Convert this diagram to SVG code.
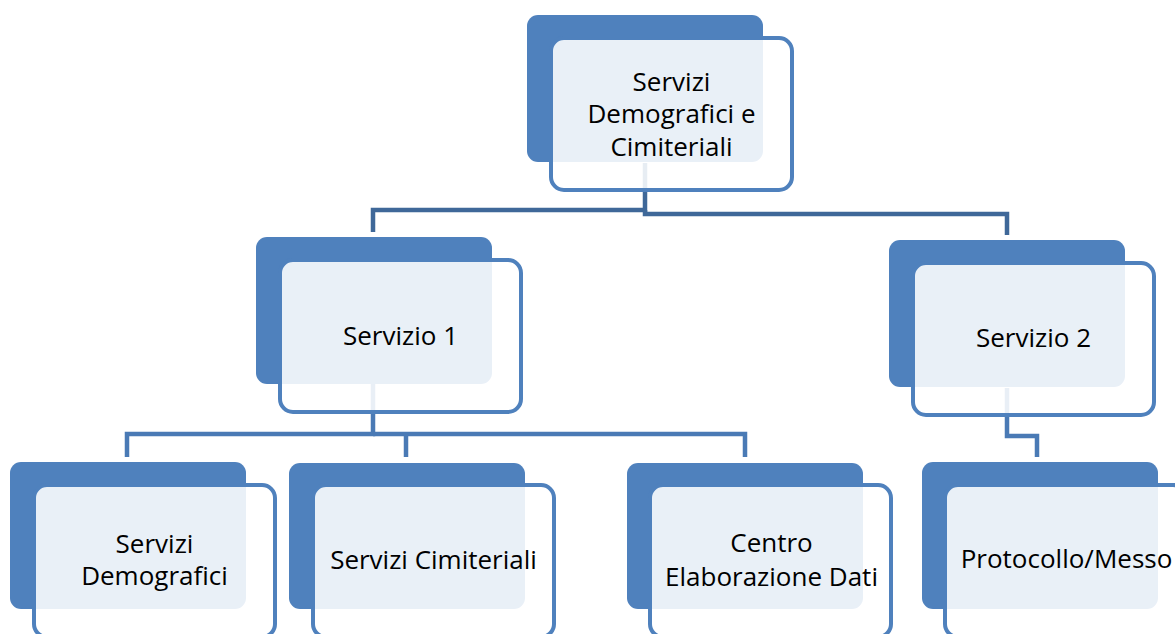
<svg xmlns="http://www.w3.org/2000/svg" width="1175" height="634" viewBox="0 0 1175 634">
<style>
.back{fill:#4f81bd;}
.front{fill:#ffffff;fill-opacity:0.88;stroke:#4f81bd;stroke-width:4;}
.lbl{font-family:"Open Sans","Liberation Sans",sans-serif;font-size:26px;fill:#000;text-anchor:middle;}
.c1{fill:none;stroke:#3f6899;stroke-width:4.5;stroke-linejoin:miter;}
.c2{fill:none;stroke:#4a7ab5;stroke-width:4.5;stroke-linejoin:miter;}
</style>
<rect width="1175" height="634" fill="#ffffff"/>
<g id="connectors">
<path class="c1" d="M645,163 V210 H373 V232"/>
<path class="c1" d="M645,210 V214 H1007 V235"/>
<path class="c2" d="M373,384 V434 H127 V457"/>
<path class="c2" d="M373,434 H745 V457"/>
<path class="c2" d="M406,434 V457"/>
<path class="c2" d="M1007,388 V436 H1037 V457"/>
</g>
<g id="node-top">
<rect class="back" x="527" y="15" width="236" height="147" rx="11"/>
<rect class="front" x="551" y="38" width="241" height="152" rx="13"/>
<text class="lbl" x="671.5" y="91">Servizi</text>
<text class="lbl" x="671.5" y="123">Demografici e</text>
<text class="lbl" x="671.5" y="156">Cimiteriali</text>
</g>
<g id="node-servizio1">
<rect class="back" x="256" y="237" width="236" height="147" rx="11"/>
<rect class="front" x="280" y="260" width="241" height="152" rx="13"/>
<text class="lbl" x="400.5" y="345">Servizio 1</text>
</g>
<g id="node-servizio2">
<rect class="back" x="889" y="240" width="236" height="147" rx="11"/>
<rect class="front" x="913" y="263" width="241" height="152" rx="13"/>
<text class="lbl" x="1033.5" y="347">Servizio 2</text>
</g>
<g id="node-demografici">
<rect class="back" x="10" y="462" width="236" height="147" rx="11"/>
<rect class="front" x="34" y="485" width="241" height="152" rx="13"/>
<text class="lbl" x="154.5" y="553">Servizi</text>
<text class="lbl" x="154.5" y="585">Demografici</text>
</g>
<g id="node-cimiteriali">
<rect class="back" x="289" y="463" width="236" height="146" rx="11"/>
<rect class="front" x="313" y="485" width="241" height="152" rx="13"/>
<text class="lbl" x="433.5" y="569">Servizi Cimiteriali</text>
</g>
<g id="node-ced">
<rect class="back" x="627" y="463" width="236" height="146" rx="11"/>
<rect class="front" x="650" y="485" width="241" height="152" rx="13"/>
<text class="lbl" x="771.5" y="552">Centro</text>
<text class="lbl" x="771.5" y="586">Elaborazione Dati</text>
</g>
<g id="node-protocollo">
<rect class="back" x="922" y="462" width="236" height="147" rx="11"/>
<rect class="front" x="945" y="485" width="241" height="152" rx="13"/>
<text class="lbl" x="1066.5" y="568">Protocollo/Messo</text>
</g>
</svg>
